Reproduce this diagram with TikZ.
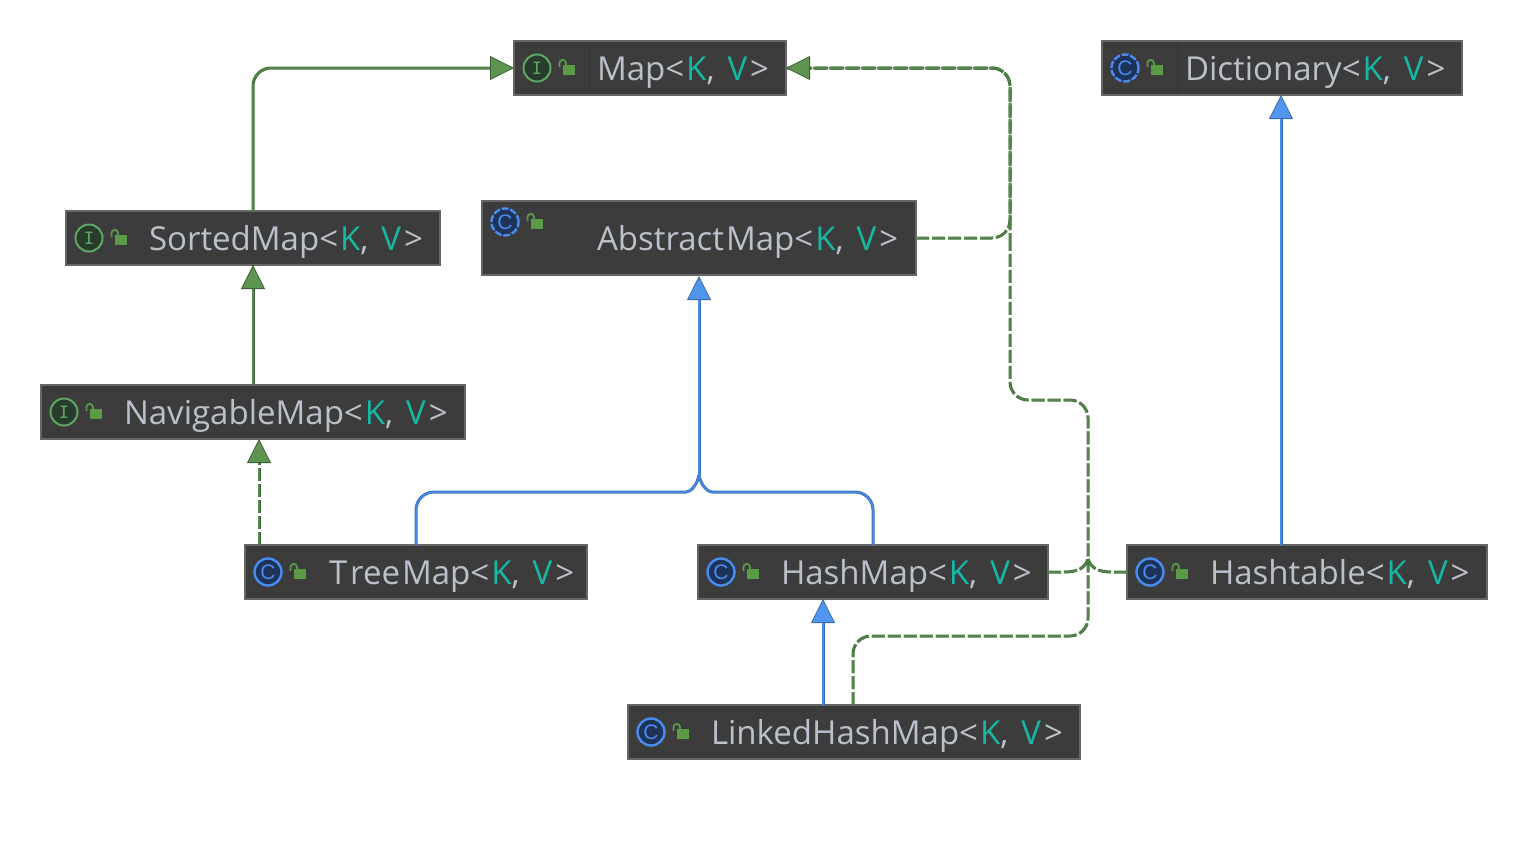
\documentclass[tikz,border=0pt]{standalone}
\usepackage{fontspec}
\setmainfont{Open Sans}
\newfontfamily\iconmono{DejaVu Sans Mono}
\newfontfamily\iconsans{Liberation Sans}
\usetikzlibrary{arrows.meta,calc}
\definecolor{boxfill}{HTML}{3C3C3C}
\definecolor{boxline}{HTML}{666666}
\definecolor{sepline}{HTML}{353535}
\definecolor{txtgrey}{HTML}{BBC1CB}
\definecolor{txtteal}{HTML}{16B8A4}
\definecolor{gline}{HTML}{3E6A39}
\definecolor{ginner}{HTML}{548649}
\definecolor{ghead}{HTML}{5E9350}
\definecolor{gdark}{HTML}{3F5F3A}
\definecolor{bline}{HTML}{3570BC}
\definecolor{binner}{HTML}{4A8AE2}
\definecolor{bhead}{HTML}{5096EE}
\definecolor{bdark}{HTML}{3A6BA8}
\definecolor{igreen}{HTML}{5FA565}
\definecolor{ifill}{HTML}{283C2C}
\definecolor{cblue}{HTML}{4A8BF0}
\definecolor{cfill}{HTML}{1E3358}
\definecolor{lockg}{HTML}{5A9A46}
\tikzset{
  x=1pt,y=-1pt,
  cbox/.style={draw=boxline,fill=boxfill,line width=1.5pt,inner sep=0pt,outer sep=0pt},
  ctext/.style={anchor=base west,inner sep=0pt,outer sep=0pt,text=txtgrey,font=\fontsize{33}{37}\selectfont},
  gsolid/.style={draw=gline,line width=3pt,rounded corners=18pt},
  gdash/.style={gsolid,dash pattern=on 13pt off 3pt},
  bsolid/.style={draw=bline,line width=3pt,rounded corners=18pt},
  ginside/.style={postaction={draw=ginner,line width=1.6pt}},
  binside/.style={postaction={draw=binner,line width=1.5pt}},
  gtip/.style={-{Triangle[length=24pt 0 0,width=24pt 0 0,fill=ghead,color=gdark,line width=.8pt]},
    postaction={draw=ginner,line width=1.6pt,-,shorten >=24pt}},
  btip/.style={-{Triangle[length=24pt 0 0,width=24pt 0 0,fill=bhead,color=bdark,line width=.8pt]},
    postaction={draw=binner,line width=1.5pt,-,shorten >=24pt}},
  iface/.style={circle,draw=igreen,fill=ifill,line width=2pt,minimum size=27pt,inner sep=0pt,text=igreen,font=\iconmono\fontsize{17}{17}\selectfont},
  klass/.style={circle,draw=cblue,fill=cfill,line width=2.4pt,minimum size=27pt,inner sep=0pt,text=cblue,font=\iconsans\fontsize{21}{21}\selectfont},
  aklass/.style={klass,dash pattern=on 7pt off 1.8pt},
  sep/.style={draw=sepline,line width=1pt},
}
\newcommand{\boxn}[5]{\node[cbox,minimum width=#4pt,minimum height=#5pt,anchor=north west] (#1) at (#2,#3) {};}
\newcommand{\lockicon}[2]{%
  \fill[lockg] (#1-4.5,#2-3) rectangle (#1+7.5,#2+7);
  \draw[lockg,line width=1.8pt] (#1-7.5,#2-1) -- (#1-7.5,#2-5) arc[start angle=180,end angle=0,radius=3.2pt] -- (#1-1.1,#2-3);
}
\newcommand{\gtext}[1]{#1\textcolor{txtgrey}{<}\kern2pt\textcolor{txtteal}{K}\textcolor{txtgrey}{,\kern13pt}\textcolor{txtteal}{V}\kern3pt\textcolor{txtgrey}{>}}
\begin{document}
\begin{tikzpicture}
\useasboundingbox (0,0) rectangle (1528,844);
% boxes
\boxn{map}{514}{41}{272}{54}
\boxn{dict}{1102}{41}{360}{54}
\boxn{sorted}{66}{211}{374}{54}
\boxn{abs}{482}{201}{434}{74}
\boxn{nav}{41}{385}{424}{54}
\boxn{tree}{245}{545}{342}{54}
\boxn{hash}{698}{545}{350}{54}
\boxn{htab}{1127}{545}{360}{54}
\boxn{link}{628}{705}{452}{54}
% separators
\draw[sep] ($(map.north west)+(75,1)$) -- ($(map.south west)+(75,-1)$);
\draw[sep] ($(dict.north west)+(75,1)$) -- ($(dict.south west)+(75,-1)$);
% icons
\node[iface] (imap) at (537,68) {I}; \lockicon{567}{68}
\node[aklass] (idict) at (1125,68) {C}; \lockicon{1155}{68}
\node[iface] (isorted) at (89,238) {I}; \lockicon{119}{238}
\node[aklass] (iabs) at (505,222) {C}; \lockicon{535}{222}
\node[iface] (inav) at (64,412) {I}; \lockicon{94}{412}
\node[klass] (itree) at (268,572) {C}; \lockicon{298}{572}
\node[klass] (ihash) at (721,572) {C}; \lockicon{751}{572}
\node[klass] (ihtab) at (1150,572) {C}; \lockicon{1180}{572}
\node[klass] (ilink) at (651,732) {C}; \lockicon{681}{732}
% labels
\node[ctext] (tmap) at (597,80) {\gtext{Map}};
\node[ctext] (tdict) at (1185,80) {\gtext{Dictionary}};
\node[ctext] (tsorted) at (149,250) {\gtext{SortedMap}};
\node[ctext] (tabs) at (597,250) {\gtext{Abstract\kern2pt Map}};
\node[ctext] (tnav) at (124,424) {\gtext{NavigableMap}};
\node[ctext] (ttree) at (329,584) {\gtext{T\kern3pt ree\kern2pt Map}};
\node[ctext] (thash) at (781,584) {\gtext{HashMap}};
\node[ctext] (thtab) at (1210,584) {\gtext{Hashtable}};
\node[ctext] (tlink) at (711,744) {\gtext{LinkedHashMap}};
% junction coordinates
\coordinate (mapin) at ($(map.west)$);
\coordinate (mapright) at ($(map.east)$);
\coordinate (absjoin) at (699,475);
\coordinate (merge) at (1088,559);
% green solid
\draw[gsolid,gtip] ($(sorted.north west)+(187,0)$) |- (mapin);
\draw[gsolid,gtip] ($(nav.north west)+(212,0)$) -- ($(sorted.south west)+(187,0)$);
% green dashed: overlapping trunk under the AbstractMap edge
\draw[gdash,dash phase=8pt,ginside] (1010,238) |- (mapright);
\draw[gdash,gtip] (abs.east |- 917,238) -- (1010,238) |- (mapright);
\draw[gdash,gtip] ($(tree.north west)+(14,0)$) -- ($(nav.south west)+(218,0)$);
\draw[gdash,ginside] ($(link.north west)+(225,0)$) -- (853,636) -- (1088,636) -- (1088,400) -- (1010,400) -- (1010,238);
\draw[gdash,rounded corners=0pt,ginside] (hash.east) -- (1064,572) .. controls (1078,572) and (1085,568) .. (merge);
\draw[gdash,rounded corners=0pt,ginside] (htab.west) -- (1112,572) .. controls (1098,572) and (1091,568) .. (merge);
% blue
\draw[bsolid,btip] ($(link.north west)+(195,0)$) -- ($(hash.south west)+(125,0)$);
\draw[bsolid,btip] ($(htab.north west)+(154,0)$) -- ($(dict.south west)+(179,0)$);
\draw[bsolid,btip] (absjoin) -- (699,276);
\draw[bsolid,binside] ($(tree.north west)+(171,0)$) -- (416,492) -- (668,492) .. controls (690,492) and (697,486) .. (absjoin);
\draw[bsolid,binside] ($(hash.north west)+(175,0)$) -- (873,492) -- (730,492) .. controls (708,492) and (701,486) .. (absjoin);
\end{tikzpicture}
\end{document}
